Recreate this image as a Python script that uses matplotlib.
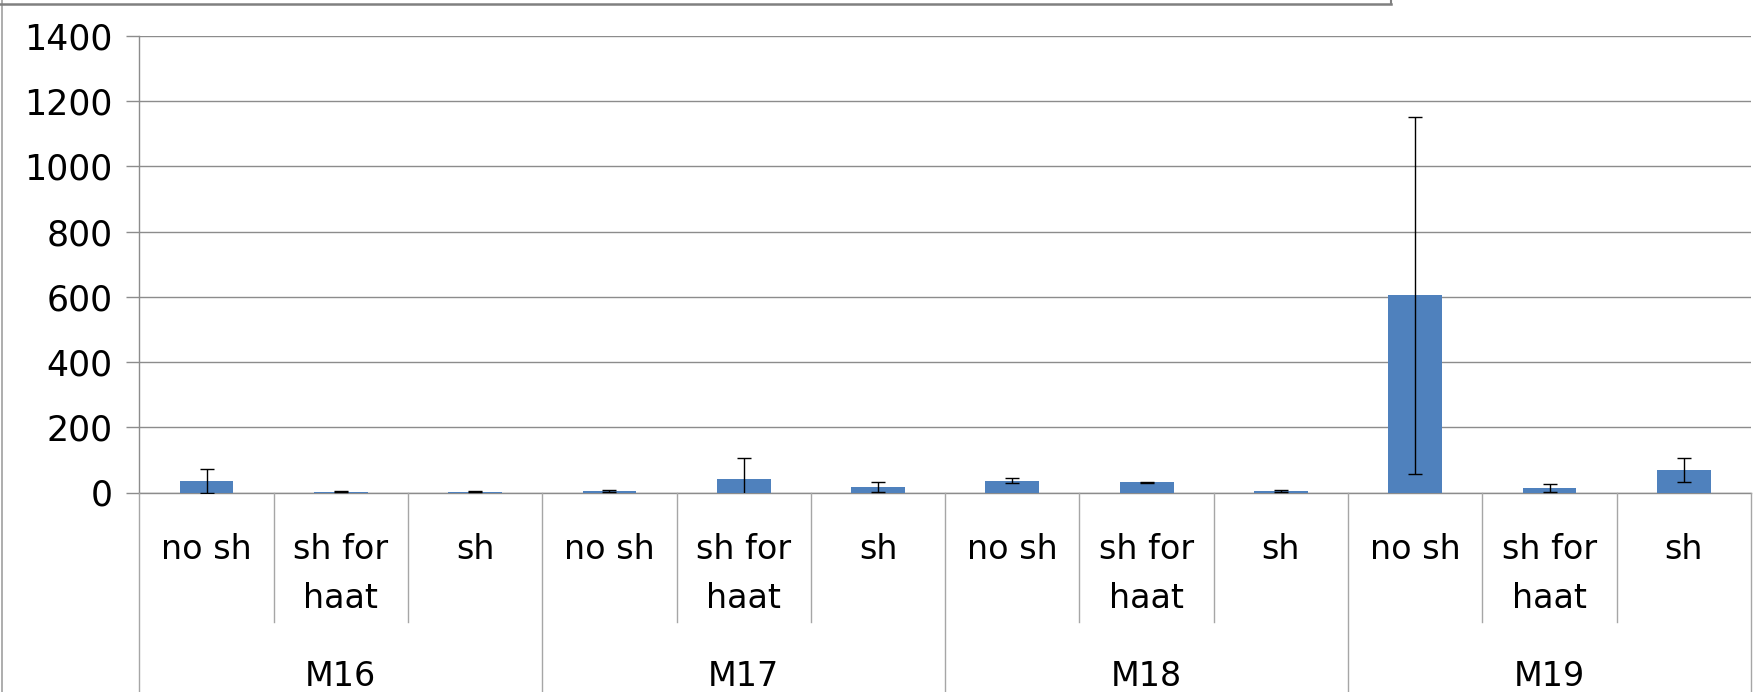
import matplotlib
matplotlib.use("Agg")
import matplotlib.pyplot as plt
from matplotlib.lines import Line2D
import matplotlib.transforms as mtransforms

groups = ["M16", "M17", "M18", "M19"]
subcats = ["no sh", "sh for\nhaat", "sh"]
means = [36, 3, 3,   5, 40, 17,   36, 31, 5,   605, 13, 70]
errs  = [36, 1, 1,   2, 66, 14,   7, 2, 2,     548, 12, 37]
yticks = [0, 200, 400, 600, 800, 1000, 1200, 1400]

W, H = 1763, 692
fig = plt.figure(figsize=(W / 100, H / 100), dpi=100)
plt.rcParams['font.family'] = ['DejaVu Sans']

L, R, T, B = 139.4, 1751, 36, 492.5
ax = fig.add_axes([L / W, 1 - B / H, (R - L) / W, (B - T) / H])

n = len(groups) * len(subcats)
x = list(range(n))
ax.bar(x, means, width=0.4, color='#4F81BD', zorder=3)
ax.errorbar(x, means, yerr=errs, fmt='none', ecolor='black', elinewidth=1.0,
            capsize=4.7, capthick=1.0, zorder=4)

ax.set_xlim(-0.5, n - 0.5)
ax.set_ylim(0, 1400)
ax.set_yticks(yticks)
ax.set_yticklabels([str(v) for v in yticks], fontsize=25)
ax.yaxis.grid(True, color='#8C8C8C', linewidth=1.0, zorder=0)
ax.set_axisbelow(True)
ax.tick_params(axis='y', direction='out', length=9.4, width=1.0, color='#8C8C8C', pad=10)
ax.set_xticks([])
for s in ['top', 'right']:
    ax.spines[s].set_visible(False)
for s in ['left', 'bottom']:
    ax.spines[s].set_color('#8C8C8C')
    ax.spines[s].set_linewidth(1.0)

def ypix(p):
    return 1 - p / H
trans = mtransforms.blended_transform_factory(ax.transData, fig.transFigure)

lc = '#A6A6A6'
for i in range(n + 1):
    xb = i - 0.5
    if i % 3 == 0:
        y0, y1 = B, H + 2
    else:
        y0, y1 = B, 622
    fig.add_artist(Line2D([xb, xb], [ypix(y0), ypix(y1)], transform=trans,
                          color=lc, linewidth=1.0))

for gi, g in enumerate(groups):
    for si, s in enumerate(subcats):
        xi = gi * 3 + si
        lines = s.split("\n")
        for li, txt in enumerate(lines):
            fig.text(xi, ypix(559 + li * 49), txt, transform=trans, ha='center',
                     va='baseline', fontsize=24)
    fig.text(gi * 3 + 1, ypix(686), g, transform=trans, ha='center',
             va='baseline', fontsize=24)

fig.add_artist(Line2D([1.5 / W, 1.5 / W], [0, 1], transform=fig.transFigure,
                      color='#A0A0A0', linewidth=1.2))
fig.add_artist(Line2D([0, 1391 / W], [ypix(3.5), ypix(3.5)], transform=fig.transFigure,
                      color='#808080', linewidth=1.8))
fig.add_artist(Line2D([1391 / W, 1391 / W], [ypix(3.5), 1], transform=fig.transFigure,
                      color='#808080', linewidth=1.5))

fig.savefig("out.png", dpi=100)
